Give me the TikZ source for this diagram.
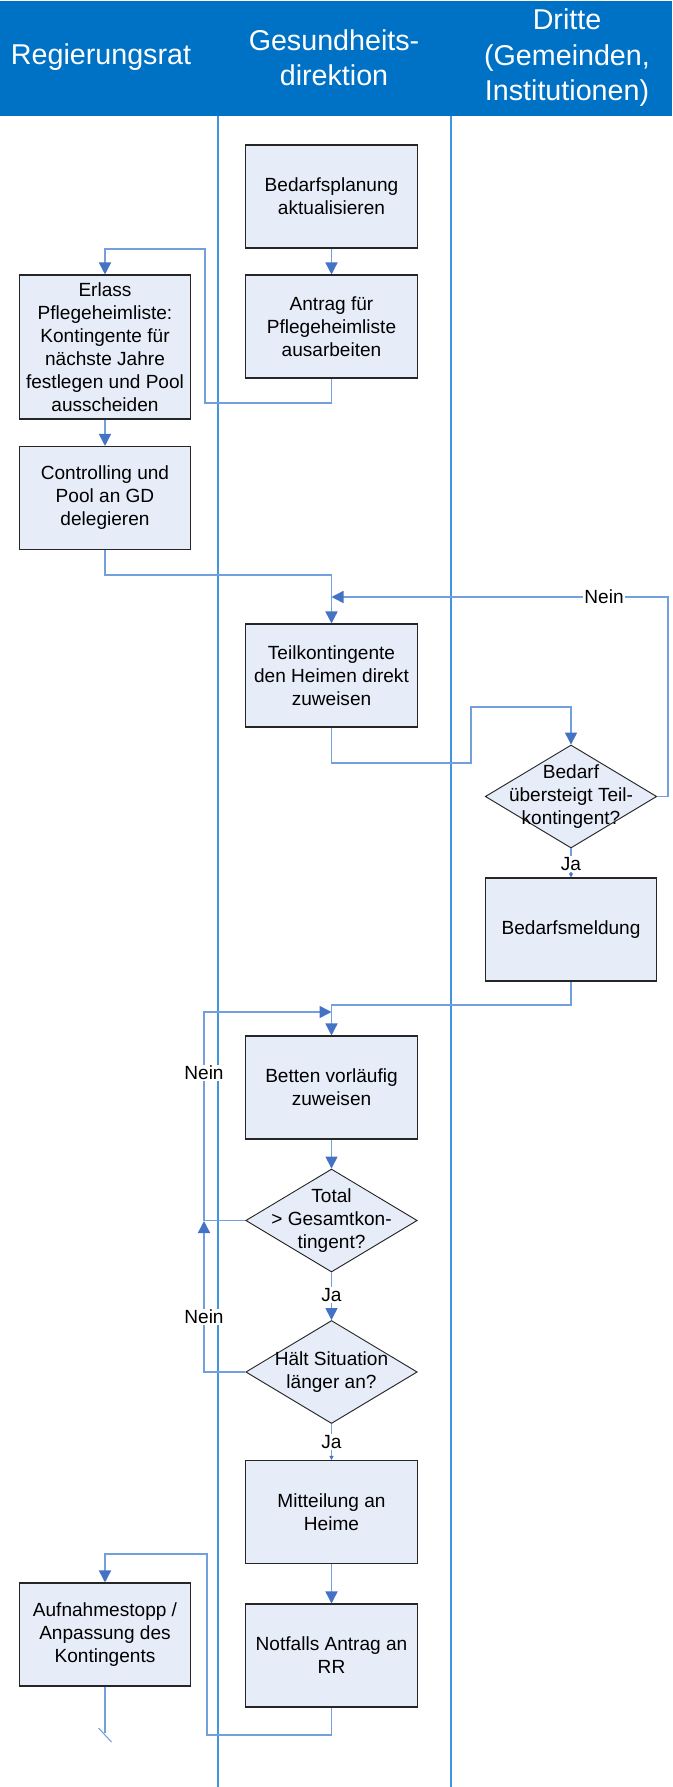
\documentclass[tikz,border=0pt]{standalone}
\usepackage{fontspec}
\setmainfont{Liberation Sans}
\usetikzlibrary{shapes.geometric,arrows.meta}
\definecolor{hdr}{RGB}{0,114,198}
\definecolor{lanecol}{RGB}{62,150,222}
\definecolor{boxfill}{RGB}{231,237,248}
\definecolor{conncol}{RGB}{115,160,220}
\definecolor{arrowc}{RGB}{68,114,196}
\begin{document}
\begin{tikzpicture}[x=0.75pt,y=-0.75pt,
 box/.style={draw=black!85, fill=boxfill, line width=0.8pt, minimum width=128.6pt, minimum height=77.25pt, inner sep=0pt, align=center, font=\fontsize{14.3}{17.3}\selectfont},
 dia/.style={diamond, draw=black!85, fill=boxfill, line width=0.7pt, minimum width=128.6pt, minimum height=77.25pt, inner sep=0pt},
 dtext/.style={align=center, font=\fontsize{14.3}{17.3}\selectfont, inner sep=0pt},
 hdrtext/.style={text=white, align=center, font=\fontsize{21.5}{26.6}\selectfont, inner sep=0pt},
 lbl/.style={fill=white, inner sep=1pt, font=\fontsize{14.3}{17.3}\selectfont},
 conn/.style={draw=conncol, line width=1.1pt},
 arr/.style={conn, -{Triangle[length=9pt,width=9pt,color=arrowc]}},
 sarr/.style={conn, -{Triangle[length=3pt,width=3pt,color=arrowc]}},
 lane/.style={draw=lanecol, line width=1.6pt}
]
\useasboundingbox (0,0) rectangle (672,1787);
\fill[white] (0,0) rectangle (672,1787);
% header
\fill[hdr] (0,1) rectangle (672,116);
\node[hdrtext] (h1) at (101,57) {Regierungsrat};
\node[hdrtext] (h2) at (334,58) {Gesundheits-\\direktion};
\node[hdrtext] (h3) at (567,58) {Dritte\\(Gemeinden,\\Institutionen)};
% lanes
\draw[lane] (218,116) -- (218,1787);
\draw[lane] (451,116) -- (451,1787);
% nodes
\node[box] (b1) at (331.5,196.5) {Bedarfsplanung\\aktualisieren};
\node[box] (b2) at (331.5,326.5) {Antrag für\\Pflegeheimliste\\ausarbeiten};
\node[box, minimum height=108pt] (l1) at (105,347) {Erlass\\Pflegeheimliste:\\Kontingente für\\nächste Jahre\\festlegen und Pool\\ausscheiden};
\node[box] (l2) at (105,498) {Controlling und\\Pool an GD\\delegieren};
\node[box] (t) at (331.5,675.5) {Teilkontingente\\den Heimen direkt\\zuweisen};
\node[dia] (d1) at (571,796.5) {};
\node[box] (bm) at (571,929.5) {Bedarfsmeldung};
\node[box] (bv) at (331.5,1087.5) {Betten vorläufig\\zuweisen};
\node[dia] (d2) at (331.5,1220.5) {};
\node[dia] (d3) at (331.5,1372) {};
\node[box] (mh) at (331.5,1512) {Mitteilung an\\Heime};
\node[box] (nr) at (331.5,1655.5) {Notfalls Antrag an\\RR};
\node[box] (af) at (105,1634.5) {Aufnahmestopp /\\Anpassung des\\Kontingents};
% connectors
\draw[arr] (b1.south) -- (b2.north);
\draw[arr] (b2.south) -- (331.5,403) -- (205,403) -- (205,249) -- (105,249) -- (l1.north);
\draw[arr] (l1.south) -- (l2.north);
\draw[arr] (l2.south) -- (105,575) -- (331.5,575) -- (t.north);
\draw[arr] (t.south) -- (331.5,763) -- (471,763) -- (471,707) -- (571,707) -- (d1.north);
\draw[arr] (d1.east) -- (668,796.5) -- (668,597) -- (331.5,597);
\draw[sarr] (d1.south) -- (bm.north);
\draw[arr] (bm.south) -- (571,1005) -- (331.5,1005) -- (bv.north);
\draw[arr] (bv.south) -- (d2.north);
\draw[arr] (d2.west) -- (204,1220.5) -- (204,1012) -- (331.5,1012);
\draw[arr] (d2.south) -- (d3.north);
\draw[arr] (d3.west) -- (204,1372) -- (204,1221);
\draw[sarr] (d3.south) -- (mh.north);
\draw[arr] (mh.south) -- (nr.north);
\draw[arr] (nr.south) -- (331.5,1735) -- (207,1735) -- (207,1554) -- (105,1554) -- (af.north);
\coordinate (afend) at (105,1733);
\coordinate (slashA) at (98.5,1728);
\coordinate (slashB) at (111.5,1742);
\draw[conn] (af.south) -- (afend);
\draw[conn, line width=0.8pt] (slashA) -- (slashB);
% diamond texts
\node[dtext] (d1t) at (d1) {Bedarf\\übersteigt Teil-\\kontingent?};
\node[dtext] (d2t) at (d2) {Total\\> Gesamtkon-\\tingent?};
\node[dtext] (d3t) at (d3) {Hält Situation\\länger an?};
% labels
\node[lbl] (n1) at (604,597) {Nein};
\node[lbl] (j1) at (571,864) {Ja};
\node[lbl] (n2) at (204,1073) {Nein};
\node[lbl] (j2) at (331.5,1295) {Ja};
\node[lbl] (n3) at (204,1317) {Nein};
\node[lbl] (j3) at (331.5,1442) {Ja};
\end{tikzpicture}
\end{document}
